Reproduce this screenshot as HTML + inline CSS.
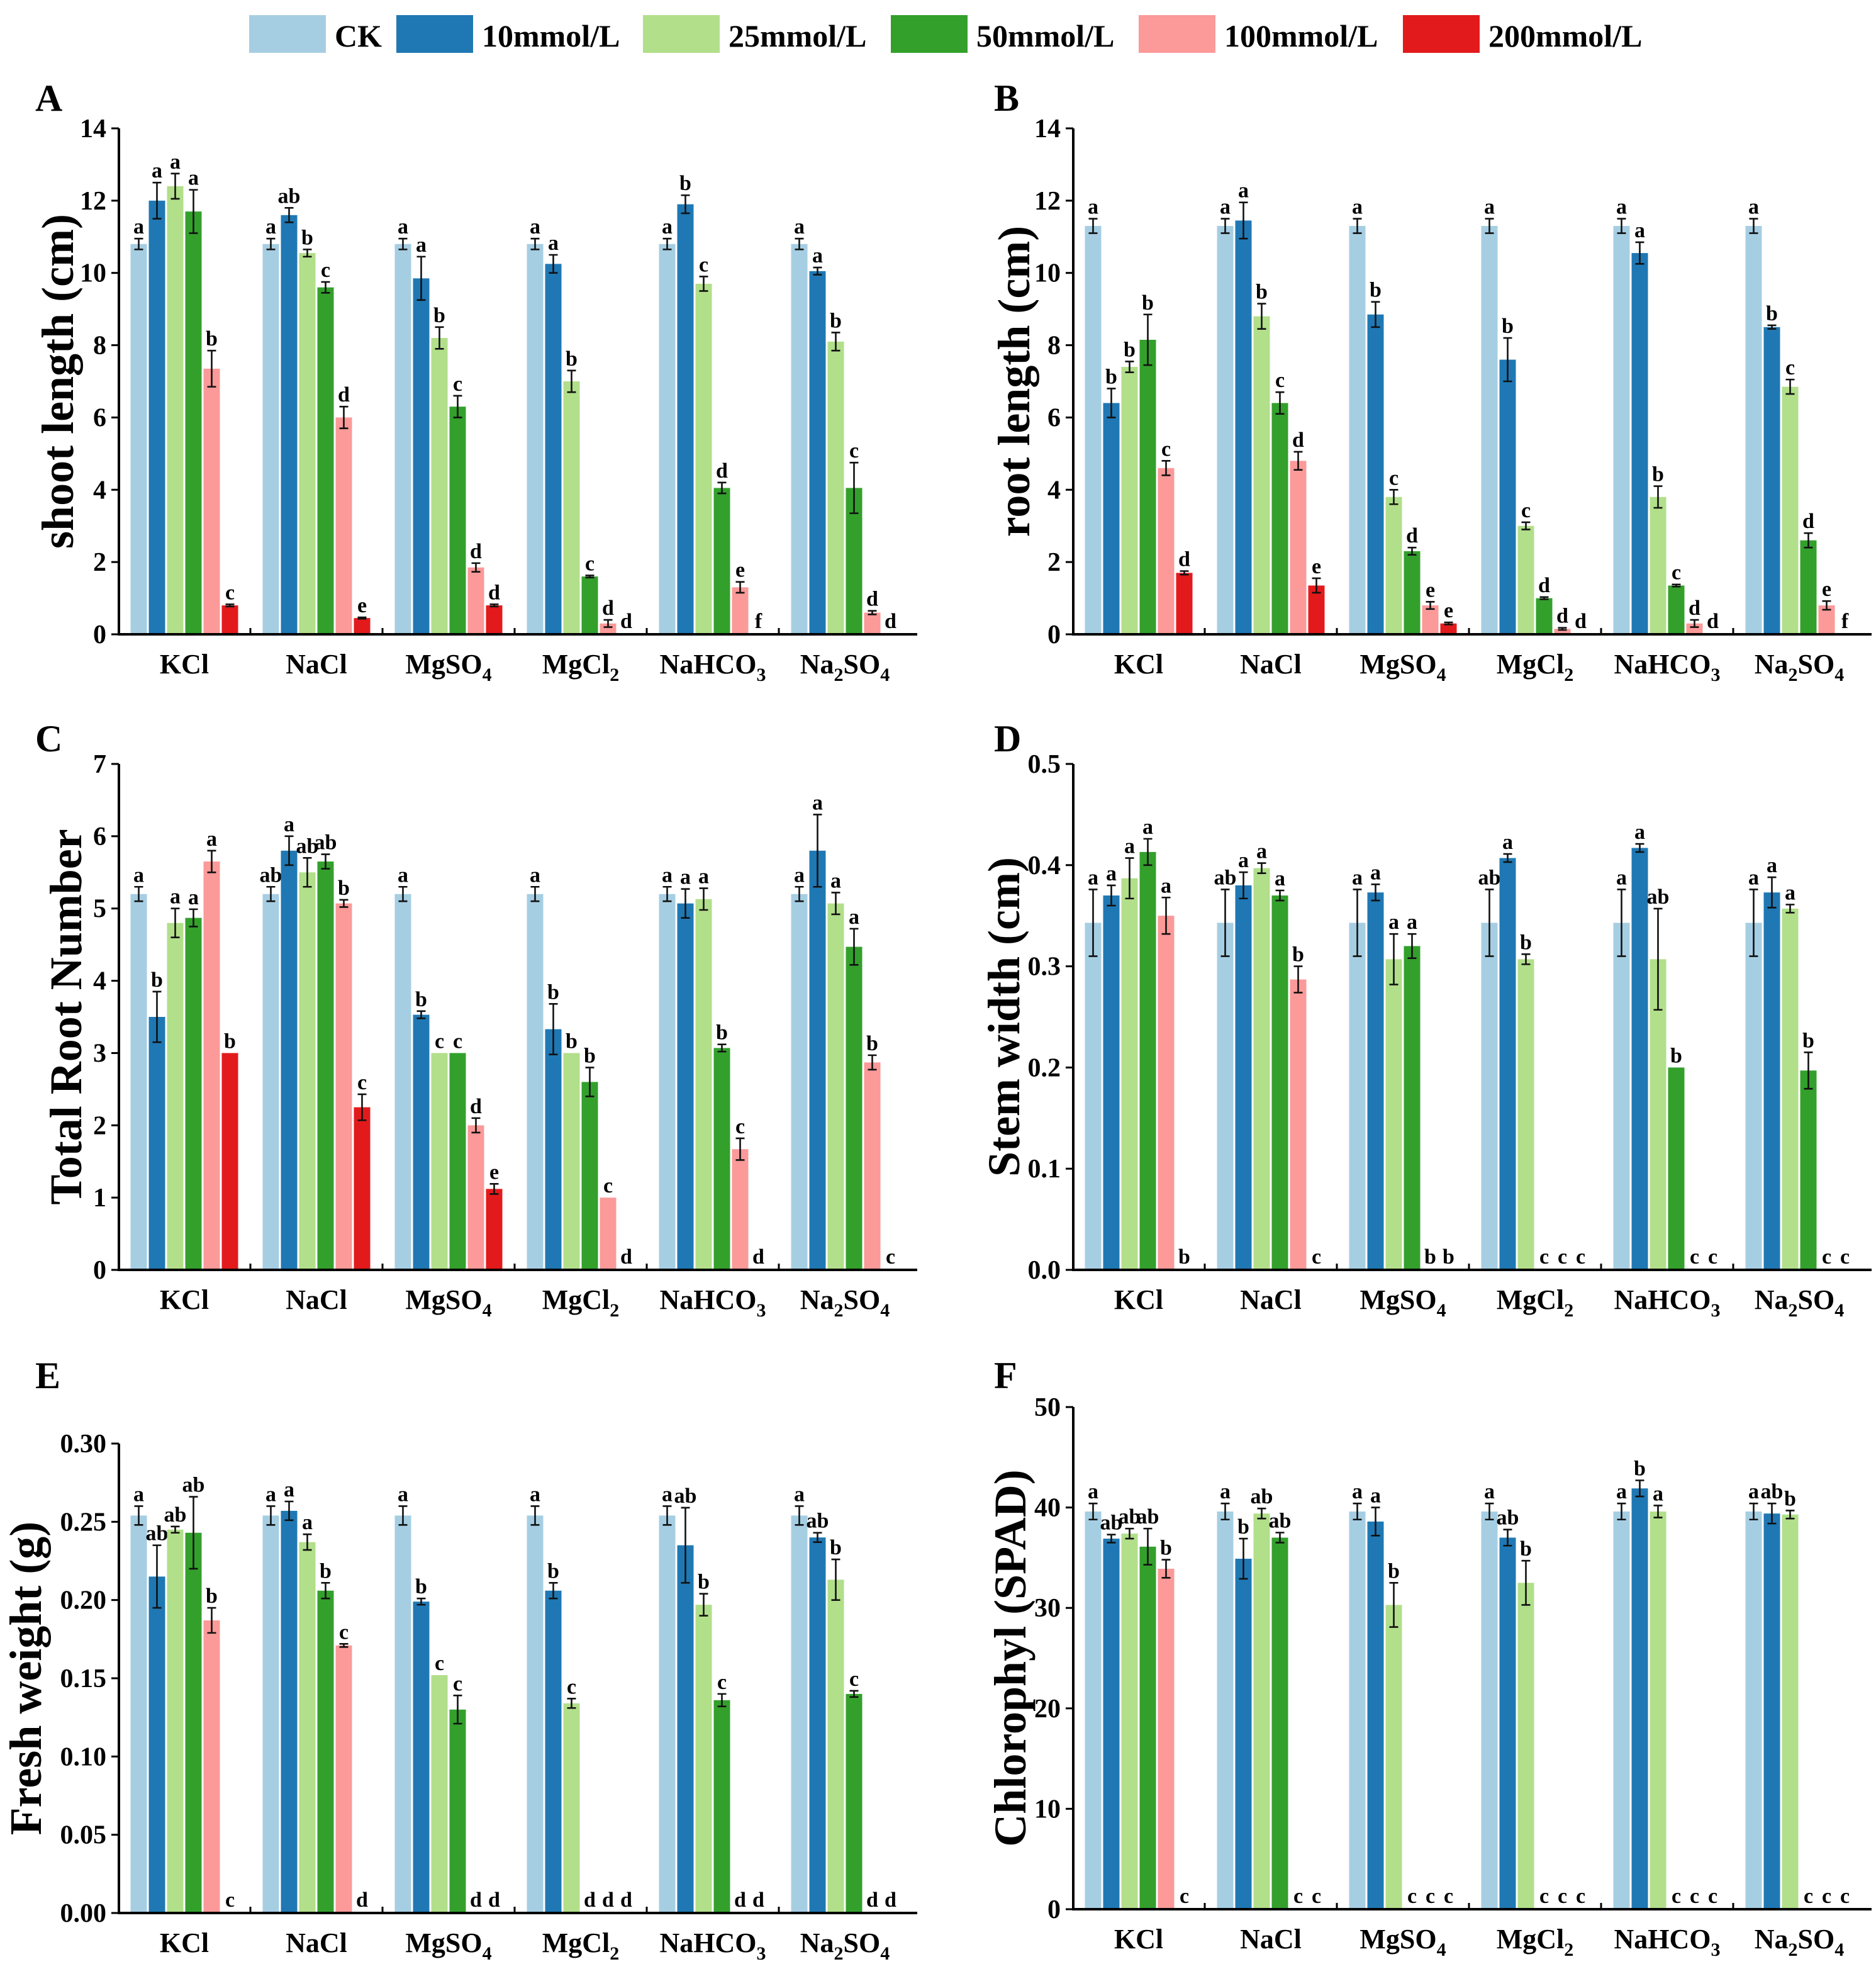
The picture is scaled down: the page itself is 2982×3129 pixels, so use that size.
<!DOCTYPE html>
<html><head><meta charset="utf-8"><style>
html,body{margin:0;padding:0;background:#fff;}
svg{display:block;font-family:"Liberation Serif",serif;font-weight:bold;}
</style></head><body>
<svg id="fig" width="2982" height="3129" viewBox="0 0 1491 1564.5" xmlns="http://www.w3.org/2000/svg">
<g id="legend"></g>
<g id="panels"></g>
</svg>
<script>
const categories = ["KCl","NaCl","MgSO4","MgCl2","NaHCO3","Na2SO4"];
const seriesNames = ["CK","10mmol/L","25mmol/L","50mmol/L","100mmol/L","200mmol/L"];
const colors = ["#a6cee3","#1f78b4","#b2df8a","#33a02c","#fb9a99","#e31a1c"];

// Panel A: shoot length
const shootVals = [[10.8,12.0,12.4,11.7,7.35,0.8],[10.8,11.6,10.55,9.6,6.0,0.45],[10.8,9.85,8.2,6.3,1.85,0.8],[10.8,10.25,7.0,1.6,0.3,0],[10.8,11.9,9.7,4.05,1.3,0],[10.8,10.05,8.1,4.05,0.6,0]];
const shootErr = [[.15,.5,.35,.6,.5,.03],[.15,.2,.1,.15,.3,.02],[.15,.6,.3,.3,.12,.03],[.15,.25,.3,.03,.1,0],[.15,.25,.2,.15,.15,0],[.15,.1,.25,.7,.05,0]];
const shootLab = [["a","a","a","a","b","c"],["a","ab","b","c","d","e"],["a","a","b","c","d","d"],["a","a","b","c","d","d"],["a","b","c","d","e","f"],["a","a","b","c","d","d"]];
// Panel B: root length
const rootVals = [[11.3,6.4,7.4,8.15,4.6,1.7],[11.3,11.45,8.8,6.4,4.8,1.35],[11.3,8.85,3.8,2.3,0.8,0.3],[11.3,7.6,3.0,1.0,0.15,0],[11.3,10.55,3.8,1.35,0.3,0],[11.3,8.5,6.85,2.6,0.8,0]];
const rootErr = [[.2,.4,.15,.7,.2,.05],[.2,.5,.35,.3,.25,.2],[.2,.35,.2,.1,.1,.03],[.2,.6,.1,.03,.03,0],[.2,.3,.3,.03,.1,0],[.2,.05,.2,.2,.12,0]];
const rootLab = [["a","b","b","b","c","d"],["a","a","b","c","d","e"],["a","b","c","d","e","e"],["a","b","c","d","d","d"],["a","a","b","c","d","d"],["a","b","c","d","e","f"]];
// Panel C: total root number
const numVals = [[5.2,3.5,4.8,4.87,5.65,3.0],[5.2,5.8,5.5,5.65,5.07,2.25],[5.2,3.53,3.0,3.0,2.0,1.12],[5.2,3.33,3.0,2.6,1.0,0],[5.2,5.07,5.13,3.07,1.67,0],[5.2,5.8,5.07,4.47,2.87,0]];
const numErr = [[.1,.35,.2,.12,.15,0],[.1,.2,.2,.1,.05,.18],[.1,.05,0,0,.1,.07],[.1,.35,0,.2,0,0],[.1,.2,.15,.05,.15,0],[.1,.5,.15,.25,.1,0]];
const numLab = [["a","b","a","a","a","b"],["ab","a","ab","ab","b","c"],["a","b","c","c","d","e"],["a","b","b","b","c","d"],["a","a","a","b","c","d"],["a","a","a","a","b","c"]];
// Panel D: stem width
const stemVals = [[.343,.37,.387,.413,.35,0],[.343,.38,.397,.37,.287,0],[.343,.373,.307,.32,0,0],[.343,.407,.307,0,0,0],[.343,.417,.307,.2,0,0],[.343,.373,.357,.197,0,0]];
const stemErr = [[.033,.01,.02,.013,.018,0],[.033,.013,.005,.005,.013,0],[.033,.008,.025,.012,0,0],[.033,.004,.005,0,0,0],[.033,.004,.05,0,0,0],[.033,.015,.004,.018,0,0]];
const stemLab = [["a","a","a","a","a","b"],["ab","a","a","a","b","c"],["a","a","a","a","b","b"],["ab","a","b","c","c","c"],["a","a","ab","b","c","c"],["a","a","a","b","c","c"]];
// Panel E: fresh weight
const fwVals = [[.254,.215,.245,.243,.187,0],[.254,.257,.237,.206,.171,0],[.254,.199,.152,.130,0,0],[.254,.206,.134,0,0,0],[.254,.235,.197,.136,0,0],[.254,.240,.213,.140,0,0]];
const fwErr = [[.006,.02,.002,.023,.008,0],[.006,.006,.005,.005,.001,0],[.006,.002,0,.009,0,0],[.006,.005,.003,0,0,0],[.006,.024,.007,.004,0,0],[.006,.003,.013,.002,0,0]];
const fwLab = [["a","ab","ab","ab","b","c"],["a","a","a","b","c","d"],["a","b","c","c","d","d"],["a","b","c","d","d","d"],["a","ab","b","c","d","d"],["a","ab","b","c","d","d"]];
// Panel F: chlorophyll
const chlVals = [[39.6,36.9,37.4,36.1,33.9,0],[39.6,34.9,39.4,37.0,0,0],[39.6,38.6,30.3,0,0,0],[39.6,37.0,32.5,0,0,0],[39.6,41.9,39.6,0,0,0],[39.6,39.4,39.3,0,0,0]];
const chlErr = [[.8,.4,.5,1.8,.9,0],[.8,2,.5,.5,0,0],[.8,1.4,2.2,0,0,0],[.8,.8,2.2,0,0,0],[.8,.8,.6,0,0,0],[.8,1,.4,0,0,0]];
const chlLab = [["a","ab","ab","ab","b","c"],["a","b","ab","ab","c","c"],["a","a","b","c","c","c"],["a","ab","b","c","c","c"],["a","b","a","c","c","c"],["a","ab","b","c","c","c"]];

const ticksA = ["0","2","4","6","8","10","12","14"];
const ticksC = ["0","1","2","3","4","5","6","7"];
const ticksD = ["0.0","0.1","0.2","0.3","0.4","0.5"];
const ticksE = ["0.00","0.05","0.10","0.15","0.20","0.25","0.30"];
const ticksF = ["0","10","20","30","40","50"];

const NS="http://www.w3.org/2000/svg";
function mk(tag, attrs, parent){const e=document.createElementNS(NS,tag);for(const k in attrs)e.setAttribute(k,attrs[k]);parent.appendChild(e);return e;}

const lg=document.getElementById('legend');
const legX=[198,315,511,708,905,1115];
seriesNames.forEach((n,i)=>{
  const r=mk('rect',{x:legX[i],y:12,width:61,height:30,fill:colors[i]},lg);
  
  
  const t=mk('text',{x:legX[i]+68,y:37,'font-size':25,fill:'#000'},lg);
  t.textContent=n;
  
  
});

const panels=[
 {letter:"A",title:"shoot length (cm)",ax:94.5,y0:504,yTop:102,max:14,ticks:ticksA,vals:shootVals,err:shootErr,lab:shootLab,lx:28,ly:88,toff:36.5},
 {letter:"B",title:"root length (cm)",ax:853,y0:504,yTop:102,max:14,ticks:ticksA,vals:rootVals,err:rootErr,lab:rootLab,lx:790,ly:88,toff:35},
 {letter:"C",title:"Total Root Number",ax:94.5,y0:1009,yTop:607,max:7,ticks:ticksC,vals:numVals,err:numErr,lab:numLab,lx:28,ly:597,toff:30},
 {letter:"D",title:"Stem width (cm)",ax:853,y0:1009,yTop:607,max:0.5,ticks:ticksD,vals:stemVals,err:stemErr,lab:stemLab,lx:790,ly:597,toff:43},
 {letter:"E",title:"Fresh weight (g)",ax:94.5,y0:1520,yTop:1147,max:0.30,ticks:ticksE,vals:fwVals,err:fwErr,lab:fwLab,lx:28,ly:1103,toff:62},
 {letter:"F",title:"Chlorophyl (SPAD)",ax:853,y0:1517,yTop:1118,max:50,ticks:ticksF,vals:chlVals,err:chlErr,lab:chlLab,lx:790,ly:1103,toff:38}
];
const catMain=["KCl","NaCl","MgSO","MgCl","NaHCO","Na"];
const catSub=["","","4","2","3","2"];
const catTail=["","","","","","SO"];
const catSub2=["","","","","","4"];

const root=document.getElementById('panels');
panels.forEach((p,pi)=>{
  const g=mk('g',{},root);
  
  
  const yS=v=>p.y0-(v/p.max)*(p.y0-p.yTop);
  const gc=i=>p.ax+52+105*i;
  const bx=(i,j)=>gc(i)+(j-2.5)*14.5;
  const L=mk('text',{x:p.lx,y:p.ly,'font-size':30},g);L.textContent=p.letter;
  
  
  p.vals.forEach((grp,i)=>grp.forEach((v,j)=>{
    const x=bx(i,j);
    if(v>0){
      const r=mk('rect',{x:x-6.5,y:yS(v),width:13,height:p.y0-yS(v),fill:colors[j]},g);
      
      
    }
    const e=p.err[i][j];
    let top=yS(v);
    if(v>0&&e>0){
      const t=yS(v+e),b=yS(v-e);top=t;
      mk('path',{d:`M${x},${t}V${b}M${x-3.5},${t}H${x+3.5}M${x-3.5},${b}H${x+3.5}`,stroke:'#111','stroke-width':1.3,fill:'none'},g);
    }
    const lt=mk('text',{x:x,y:v>0?top-4:p.y0-5,'font-size':17,'text-anchor':'middle'},g);
    lt.textContent=p.lab[i][j];
    
    
  }));
  const xEnd=p.ax+52+105*5.5+5;
  const axp=mk('path',{d:`M${p.ax},${p.yTop}V${p.y0}H${xEnd}`,stroke:'#000','stroke-width':2,fill:'none'},g);
  
  
  for(let i=1;i<6;i++){const x=p.ax+52+105*(i-0.5);mk('line',{x1:x,y1:p.y0,x2:x,y2:p.y0-5,stroke:'#000','stroke-width':1.5},g);}
  p.ticks.forEach((t,k)=>{
    const v=p.max*k/(p.ticks.length-1),y=yS(v);
    mk('line',{x1:p.ax-6,y1:y,x2:p.ax,y2:y,stroke:'#000','stroke-width':1.5},g);
    const tt=mk('text',{x:p.ax-10,y:y+7,'font-size':21,'text-anchor':'end'},g);tt.textContent=t;
    
    
  });
  categories.forEach((c,i)=>{
    const t=mk('text',{x:gc(i),y:p.y0+31,'font-size':22,'text-anchor':'middle'},g);
    
    
    t.appendChild(document.createTextNode(catMain[i]));
    if(catSub[i]){const s=mk('tspan',{'font-size':15,dy:6},t);s.textContent=catSub[i];}
    if(catTail[i]){const s=mk('tspan',{dy:-6},t);s.textContent=catTail[i];const s2=mk('tspan',{'font-size':15,dy:6},t);s2.textContent=catSub2[i];}
  });
  const tx=p.ax-p.toff, ty=(p.yTop+p.y0)/2;
  const T=mk('text',{x:tx,y:ty,'font-size':36,'text-anchor':'middle',transform:`rotate(-90 ${tx} ${ty})`},g);
  T.textContent=p.title;
  
  
});
</script>
</body></html>
